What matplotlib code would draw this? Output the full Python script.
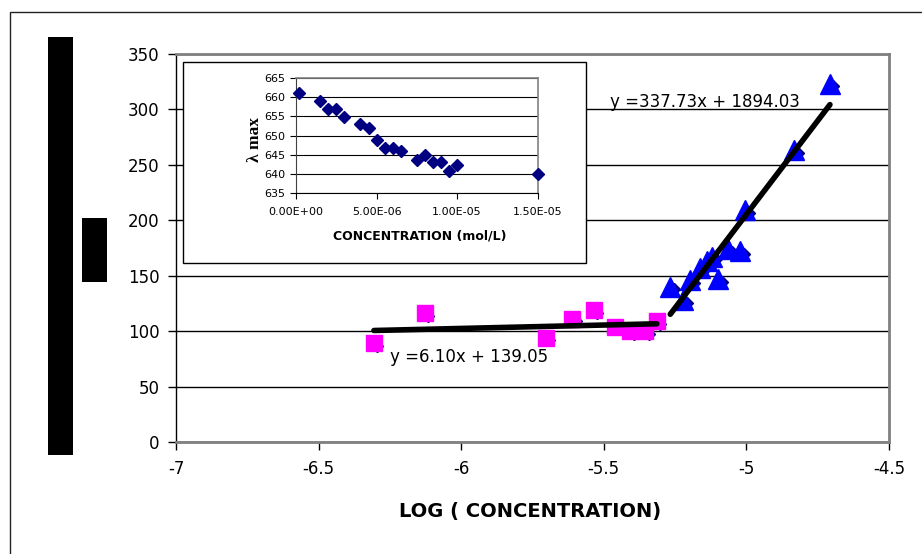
import matplotlib
matplotlib.use("Agg")
import matplotlib.pyplot as plt
from matplotlib.patches import Rectangle
from matplotlib.transforms import offset_copy
import numpy as np

plt.rcParams['font.family'] = ['DejaVu Sans']

# ---- main chart: response against log10(concentration) ----
low_logc = [-6.306, -6.128, -5.704, -5.611, -5.535, -5.462, -5.407, -5.354, -5.314]
low_resp = [89, 116, 94, 111, 119, 104, 100, 100, 109]

high_logc = [-5.267, -5.221, -5.197, -5.162, -5.137, -5.120, -5.099,
             -5.064, -5.022, -5.004, -4.833, -4.707]
high_resp = [140, 128, 146, 157, 163, 167, 147, 174, 172, 209, 263, 323]

low_fit = (6.10, 139.05)       # slope, intercept
high_fit = (337.73, 1894.03)

x_ticks = [-7, -6.5, -6, -5.5, -5, -4.5]
y_ticks = [0, 50, 100, 150, 200, 250, 300, 350]

# ---- inset: lambda max against concentration ----
conc = [2e-7, 1.5e-6, 2e-6, 2.5e-6, 3e-6, 4e-6, 4.5e-6, 5e-6, 5.5e-6,
        6e-6, 6.5e-6, 7.5e-6, 8e-6, 8.5e-6, 9e-6, 9.5e-6, 1e-5, 1.5e-5]
lam_max = [661.2, 659.1, 656.9, 656.9, 654.8, 653.1, 651.9, 648.9, 646.8,
           646.8, 645.9, 643.7, 645.0, 643.0, 643.0, 640.8, 642.2, 640.0]
inset_x_ticks = [0, 5e-6, 1e-5, 1.5e-5]
inset_y_ticks = [635, 640, 645, 650, 655, 660, 665]

W, H = 922, 554
fig = plt.figure(figsize=(W / 100, H / 100), dpi=100)


def box(x0, y0, x1, y1):
    """Pixel box (top-left origin) -> figure fraction rect."""
    return [x0 / W, 1 - y1 / H, (x1 - x0) / W, (y1 - y0) / H]


def rect(x0, y0, x1, y1, **kw):
    l, b, w, h = box(x0, y0, x1, y1)
    r = Rectangle((l, b), w, h, transform=fig.transFigure, **kw)
    fig.add_artist(r)
    return r


# outer chart border
rect(9.5, 11.5, 940, 580, facecolor='none', edgecolor='#222222', lw=1, zorder=0)

# ---- main axes ----
ax = fig.add_axes(box(176, 54, 889, 442), zorder=1)
ax.set_xlim(x_ticks[0], x_ticks[-1])
ax.set_ylim(y_ticks[0], y_ticks[-1])
ax.set_xticks(x_ticks)
ax.set_yticks(y_ticks)
ax.set_xticklabels([f"{t:g}" for t in x_ticks])
ax.set_yticklabels([f"{t:g}" for t in y_ticks])
ax.grid(axis='y', color='black', lw=1)
for side in ('top', 'right', 'bottom'):
    ax.spines[side].set_color('#808080')
    ax.spines[side].set_linewidth(2)
ax.spines['left'].set_color('black')
ax.spines['left'].set_linewidth(1)
ax.tick_params(direction='out', length=6, width=1, color='black', labelsize=12)
ax.tick_params(axis='x', pad=7)
ax.tick_params(axis='y', pad=6)

all_logc = low_logc + high_logc
all_resp = low_resp + high_resp
shift = offset_copy(ax.transData, fig=fig, x=3.5, y=-2.5, units='dots')
ax.plot(all_logc, all_resp, 'D', color='#000080', ms=6.5, transform=shift,
        zorder=3, clip_on=False)
ax.plot(low_logc, low_resp, 's', color='#FF00FF', ms=12, zorder=4)
ax.plot(high_logc, high_resp, '^', color='#0000FF', ms=15, zorder=4)

for xs, (m, b) in ((low_logc, low_fit), (high_logc, high_fit)):
    xr = np.array([min(xs), max(xs)])
    ax.plot(xr, m * xr + b, color='black', lw=4, solid_capstyle='round', zorder=5)

ax.text(-6.25, 77, f"y ={low_fit[0]:.2f}x + {low_fit[1]:.2f}", fontsize=12,
        ha='left', va='center', zorder=6)
ax.text(-5.477, 306.5, f"y ={high_fit[0]:.2f}x + {high_fit[1]:.2f}", fontsize=12,
        ha='left', va='center', zorder=6)

fig.text(530 / W, 1 - 511 / H, "LOG ( CONCENTRATION)", fontsize=14,
         fontweight='bold', ha='center', va='center')

# label placeholders (filled bars)
rect(48, 37, 73, 455, facecolor='black', edgecolor='none', zorder=2)
rect(82, 218, 107, 282, facecolor='black', edgecolor='none', zorder=2)

# ---- inset ----
rect(183, 62, 586, 263, facecolor='white', edgecolor='black', lw=1, zorder=2)
ax_in = fig.add_axes(box(296, 78.3, 537.7, 192.7), zorder=3)
ax_in.set_xlim(inset_x_ticks[0], inset_x_ticks[-1])
ax_in.set_ylim(inset_y_ticks[0], inset_y_ticks[-1])
ax_in.set_xticks(inset_x_ticks)
ax_in.set_yticks(inset_y_ticks)
ax_in.set_xticklabels([f"{t:.2E}" for t in inset_x_ticks])
ax_in.set_yticklabels([f"{t:g}" for t in inset_y_ticks])
ax_in.grid(axis='y', color='black', lw=0.8)
for side in ('top', 'right'):
    ax_in.spines[side].set_color('#808080')
    ax_in.spines[side].set_linewidth(1.2)
ax_in.spines['left'].set_color('#404040')
ax_in.spines['bottom'].set_color('black')
ax_in.tick_params(direction='out', length=4, width=0.8, labelsize=8)
ax_in.tick_params(axis='x', pad=6)
ax_in.plot(conc, lam_max, 'D', color='#000080', ms=6.5, clip_on=False, zorder=3)

fig.text(255 / W, 1 - 140 / H, "λ max", rotation=90, fontsize=12.5,
         family=['Liberation Serif', 'DejaVu Serif'], fontweight='bold',
         ha='center', va='center')
fig.text(420 / W, 1 - 236 / H, "CONCENTRATION (mol/L)", fontsize=9,
         fontweight='bold', ha='center', va='center')

fig.savefig("out.png", dpi=100)
